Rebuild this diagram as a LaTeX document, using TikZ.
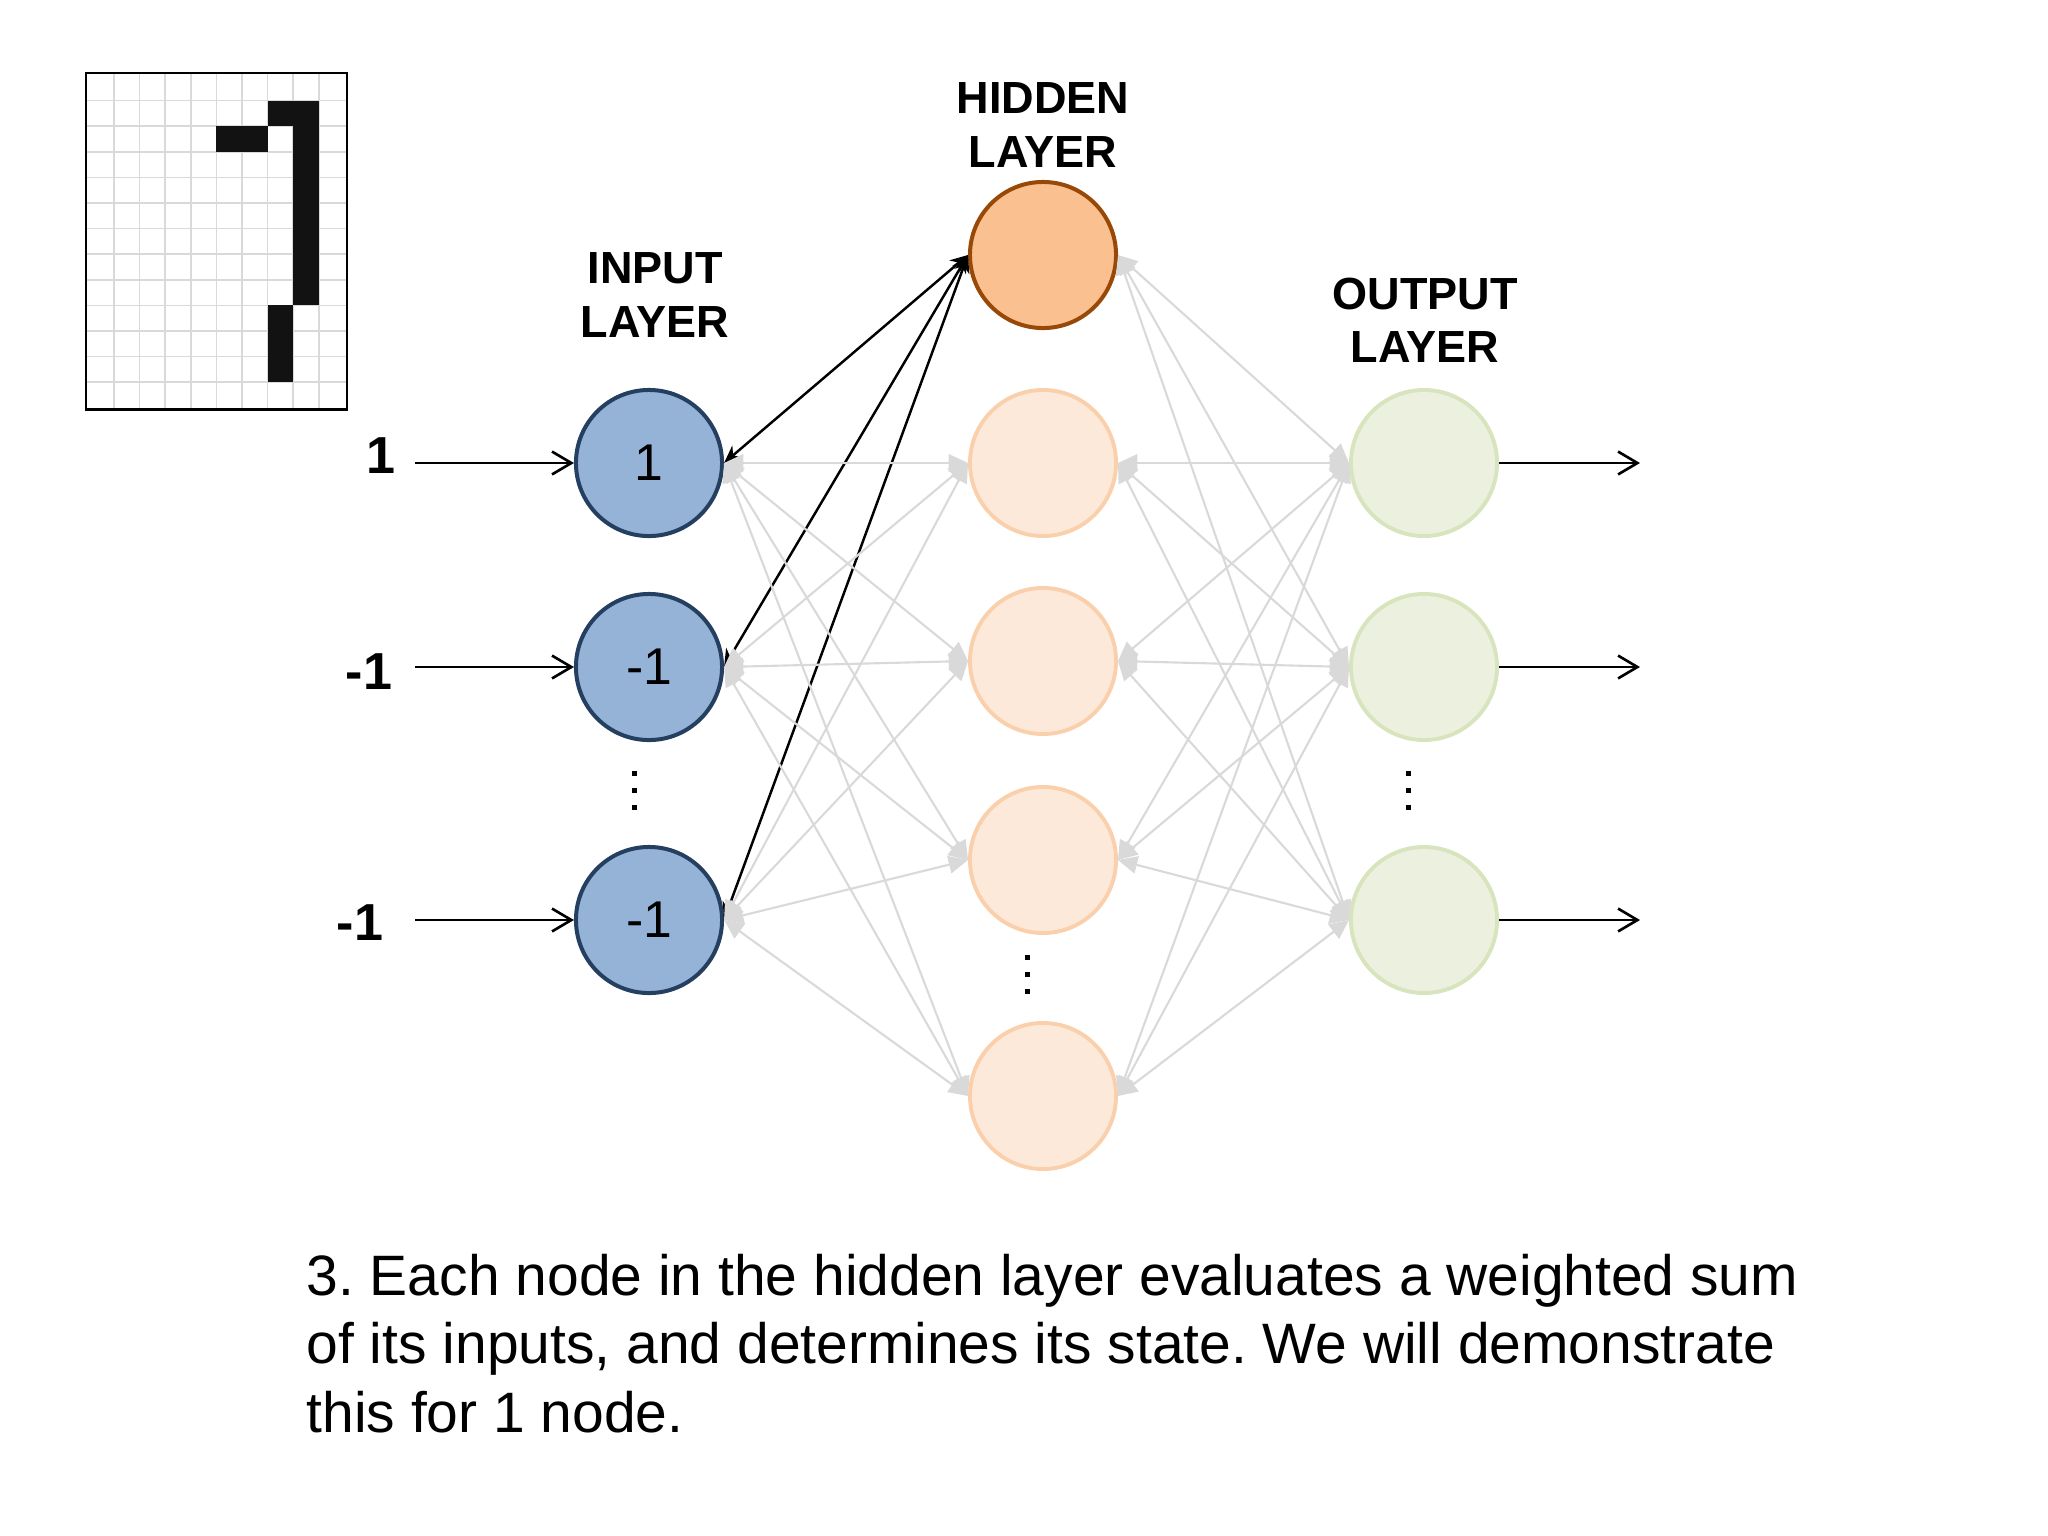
\documentclass[tikz,border=0pt]{standalone}
\usepackage{fontspec}
\setmainfont{Liberation Sans}
\usetikzlibrary{arrows.meta}
\definecolor{inpfill}{HTML}{95B3D7}
\definecolor{inpdraw}{HTML}{243F60}
\definecolor{hidAfill}{HTML}{FAC090}
\definecolor{hidAdraw}{HTML}{984807}
\definecolor{hidBfill}{HTML}{FDE9D9}
\definecolor{hidBdraw}{HTML}{FAD0AC}
\definecolor{outfill}{HTML}{EBF1DE}
\definecolor{outdraw}{HTML}{D7E4BD}
\definecolor{edgegray}{HTML}{D9D9D9}
\definecolor{gridgray}{HTML}{D9D9D9}
\newcommand\pixcell[2]{\fill[black!93] ({88.4+25.6*#1},{75+25.6*#2}) rectangle +(25.6,25.6);}
\begin{document}
\frenchspacing
\begin{tikzpicture}[x=0.01cm,y=-0.01cm,
  neuron/.style={circle, inner sep=0pt, minimum size=1.46cm, line width=1.14pt},
  inp/.style={neuron, fill=inpfill, draw=inpdraw, font=\fontsize{14.7}{17}\selectfont},
  hidA/.style={neuron, fill=hidAfill, draw=hidAdraw},
  hidB/.style={neuron, fill=hidBfill, draw=hidBdraw, line width=1.1pt},
  outp/.style={neuron, fill=outfill, draw=outdraw, line width=1.1pt},
  title/.style={anchor=base, inner sep=0pt, font=\bfseries\fontsize{12.8}{15}\selectfont},
  inlabel/.style={anchor=base, inner sep=0pt, font=\bfseries\fontsize{14.8}{17}\selectfont},
  caption/.style={anchor=base west, inner sep=0pt, font=\fontsize{16.2}{19.5}\selectfont},
  gridline/.style={draw=gridgray, line width=0.45pt},
  grayedge/.style={draw=edgegray, line width=0.6pt, {Triangle[length=5.5pt,width=5pt]}-{Triangle[length=5.5pt,width=5pt]}},
  blackedge/.style={draw=black, line width=0.7pt, {Stealth[length=5pt,width=4.5pt]}-{Stealth[length=5pt,width=4.5pt]}},
  flow/.style={draw=black, line width=0.75pt, -{Straight Barb[length=5.5pt,width=6.5pt]}},
  vdot/.style={fill=black}
]
\useasboundingbox (0,0) rectangle (2048,1536);

% pixel grid
\foreach \k in {1,...,9} \draw[gridline] ({88.4+25.6*\k},73) -- ({88.4+25.6*\k},409);
\foreach \k in {1,...,12} \draw[gridline] (86,{75+25.6*\k}) -- (347,{75+25.6*\k});
\pixcell{7}{1}\pixcell{8}{1}
\pixcell{5}{2}\pixcell{6}{2}\pixcell{8}{2}
\foreach \r in {3,...,8} {\pixcell{8}{\r}}
\foreach \r in {9,10,11} {\pixcell{7}{\r}}
\draw[line width=0.85pt] (86,73) rectangle (347,409);

% neurons
\node[inp] (i1) at (649,463) {1};
\node[inp] (i2) at (649,667) {-1};
\node[inp] (i3) at (649,920) {-1};
\node[hidA] (h1) at (1043,255) {};
\node[hidB] (h2) at (1043,463) {};
\node[hidB] (h3) at (1043,661) {};
\node[hidB] (h4) at (1043,860) {};
\node[hidB] (h5) at (1043,1096) {};
\node[outp] (o1) at (1424,463) {};
\node[outp] (o2) at (1424,667) {};
\node[outp] (o3) at (1424,920) {};

% highlighted connections (to the first hidden node)
\foreach \i in {1,2,3} {\draw[blackedge] (i\i.east) -- (h1.west);}
% gray connections
\foreach \i in {1,2,3} {
  \foreach \j in {2,...,5} {
    \draw[grayedge] (i\i.east) -- (h\j.west);
  }
  \foreach \j in {1,...,5} {
    \draw[grayedge] (h\j.east) -- (o\i.west);
  }
}

% titles
\node[title] (tin1) at (655,283) {INPUT};
\node[title] (tin2) at (655,337) {LAYER};
\node[title] (thd1) at (1043,113) {HIDDEN};
\node[title] (thd2) at (1043,167) {LAYER};
\node[title] (tou1) at (1425,309) {OUTPUT};
\node[title] (tou2) at (1425,362) {LAYER};

% input values and arrows
\node[inlabel] (l1) at (381,473) {1};
\node[inlabel] (l2) at (369,689) {-1};
\node[inlabel] (l3) at (360,940) {-1};
\coordinate (s1) at (415,463);
\coordinate (s2) at (415,667);
\coordinate (s3) at (415,920);
\draw[flow] (s1) -- (i1.west);
\draw[flow] (s2) -- (i2.west);
\draw[flow] (s3) -- (i3.west);

% output arrows
\coordinate (e1) at (1640,463);
\coordinate (e2) at (1640,667);
\coordinate (e3) at (1640,920);
\draw[flow] (o1.east) -- (e1);
\draw[flow] (o2.east) -- (e2);
\draw[flow] (o3.east) -- (e3);

% vertical ellipses
\foreach \yy in {773,790,807} {
  \fill[vdot] (631.5,{\yy-2.5}) rectangle +(5,5);
  \fill[vdot] (1405.5,{\yy-2.5}) rectangle +(5,5);
}
\foreach \yy in {957,974,991} {
  \fill[vdot] (1024.5,{\yy-2.5}) rectangle +(5,5);
}

% caption
\node[caption] (c1) at (306,1295) {3. Each node in the hidden layer evaluates a weighted sum};
\node[caption] (c2) at (306,1363) {of its inputs, and determines its state. We will demonstrate};
\node[caption] (c3) at (306,1432) {this for 1 node.};
\end{tikzpicture}
\end{document}
